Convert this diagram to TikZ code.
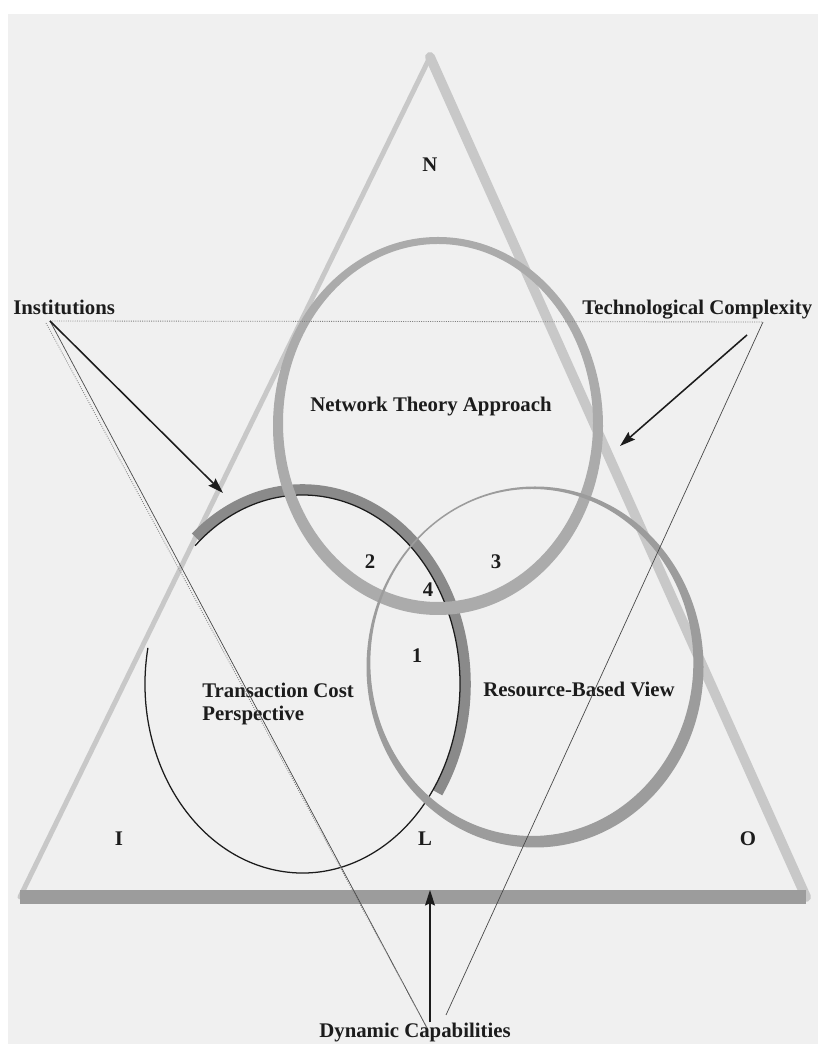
\documentclass[tikz,border=0pt]{standalone}
\usepackage{fontspec}
\setmainfont{Liberation Serif}
\usetikzlibrary{arrows.meta}

\definecolor{paper}{HTML}{F0F0F0}
\definecolor{inkdark}{HTML}{1C1C1C}
\definecolor{bandpale}{HTML}{C8C8C8}
\definecolor{bandlight}{HTML}{ABABAB}
\definecolor{bandmid}{HTML}{9C9C9C}
\definecolor{banddark}{HTML}{8A8A8A}

\begin{document}
\begin{tikzpicture}[
  x=0.025cm,y=0.025cm,
  font=\bfseries\fontsize{14.8}{16}\selectfont,
  lbl/.style={text=inkdark,inner sep=0pt},
  thinline/.style={inkdark!80,line width=.5pt},
  dotline/.style={gray,densely dotted,line width=.6pt},
  pointer/.style={inkdark,line width=1.1pt,
                  -{Stealth[length=11pt,width=7pt,inset=1.5pt]}}
]
  \fill[white] (0,0) rectangle (818,1044);
  \fill[paper] (8,0) rectangle (818,1030);
  \path[use as bounding box] (0,0) rectangle (818,1044);

  % outer triangle
  \coordinate (apex) at (430,987);
  \coordinate (botleft) at (20,147);
  \coordinate (botright) at (806,147);
  \draw[bandpale,line width=3.5pt,line cap=round] (botleft) -- (apex);
  \draw[bandpale,line width=7pt,line cap=round] (apex) -- (botright);
  \draw[bandmid,line width=10pt] (botleft) -- (botright);

  % transaction cost circle
  \coordinate (tcc) at (302.5,360);
  \draw[banddark,line width=7.5pt] (tcc) ++(131:163 and 194.5)
    arc[start angle=131,end angle=-34,x radius=163,y radius=194.5];
  \draw[inkdark,line width=.9pt] (tcc) ++(169:157.5 and 189)
    arc[start angle=169,end angle=493,x radius=157.5,y radius=189];

  % network theory circle (band thicker at the bottom)
  \coordinate (ntc) at (438,618);
  \fill[bandlight,even odd rule] (ntc) ellipse[x radius=165,y radius=189]
    ([shift={(90:3)}]ntc) ellipse[x radius=155,y radius=179];

  % resource-based view circle (band fades out to the upper left)
  \coordinate (rbc) at (535,377);
  \fill[bandmid,even odd rule] (rbc) ellipse[x radius=168.5,y radius=180.5]
    ([shift={(125:5.5)}]rbc) ellipse[x radius=161.5,y radius=173.5];

  % labels
  \node[lbl,anchor=base west] (inst) at (13,729) {Institutions};
  \node[lbl,anchor=base west] (tech) at (582,729) {Technological Complexity};
  \node[lbl,anchor=base] (dyn) at (415,7) {Dynamic Capabilities};
  \node[lbl,anchor=base] (nlab) at (430,872) {N};
  \node[lbl,anchor=base] (ilab) at (119,198) {I};
  \node[lbl,anchor=base] (llab) at (425,198) {L};
  \node[lbl,anchor=base] (olab) at (748,198) {O};
  \node[lbl,anchor=base] (ntheory) at (431,632) {Network Theory Approach};
  \node[lbl,anchor=west,align=left] (tcost) at (202,340)
    {Transaction Cost\\Perspective};
  \node[lbl,anchor=base] (rbview) at (579,347) {Resource-Based View};
  \node[lbl,anchor=base] (one) at (417,381) {1};
  \node[lbl,anchor=base] (two) at (370,475) {2};
  \node[lbl,anchor=base] (three) at (496,475) {3};
  \node[lbl,anchor=base] (four) at (428,447) {4};

  % inverted triangle and pointers
  \coordinate (instfoot) at (50,723);
  \coordinate (techfoot) at (763,722);
  \coordinate (dynleft) at (427,16);
  \coordinate (dynright) at (446,29);
  \coordinate (instarrow) at (223,551);
  \coordinate (techstart) at (747,709);
  \coordinate (techarrow) at (620,598);
  \coordinate (dynarrow) at (430,154);
  \draw[dotline] (instfoot) -- (techfoot);
  \draw[thinline] (instfoot) -- (dynleft);
  \draw[dotline] (instfoot) ++(-4,-2) -- (dynleft);
  \draw[thinline] (techfoot) -- (dynright);
  \draw[pointer] (instfoot) -- (instarrow);
  \draw[pointer] (techstart) -- (techarrow);
  \draw[pointer] (dynarrow |- dyn.north) -- (dynarrow);
\end{tikzpicture}
\end{document}
